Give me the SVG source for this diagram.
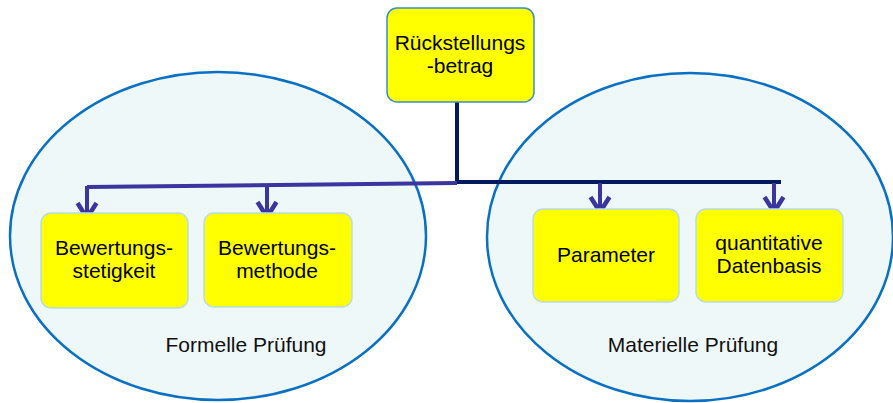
<svg xmlns="http://www.w3.org/2000/svg" width="893" height="403" viewBox="0 0 893 403">
  <defs>
    <marker id="chevron" markerUnits="userSpaceOnUse" markerWidth="40" markerHeight="40" refX="0" refY="0" orient="auto" overflow="visible">
      <path d="M-16,-9.5 L-1,0 L-16,9.5" fill="none" stroke="#3b35a0" stroke-width="4.5" stroke-linejoin="miter"/>
    </marker>
  </defs>
  <style>
    .group { fill: #eff8f8; stroke: #0a70c4; stroke-width: 2.5; }
    .box { fill: #ffff00; stroke: #b9dbe6; stroke-width: 1.5; }
    .root { fill: #ffff00; stroke: #3a8dcc; stroke-width: 1.5; }
    .lbl { font-family: "Liberation Sans", Arial, sans-serif; font-size: 21px; fill: #000; text-anchor: middle; }
    .cap { font-family: "Liberation Sans", Arial, sans-serif; font-size: 21px; fill: #111; text-anchor: middle; }
    .trunk { fill: none; stroke: #001a5e; stroke-width: 4; }
    .branch { fill: none; stroke: #3b35a0; stroke-width: 4; marker-end: url(#chevron); }
  </style>

  <rect width="893" height="403" fill="#ffffff"/>

  <!-- grouping ellipses -->
  <g id="formal-group">
    <ellipse class="group" cx="218" cy="236" rx="208" ry="164"/>
    <text class="cap" x="246" y="352">Formelle Prüfung</text>
  </g>
  <g id="material-group">
    <ellipse class="group" cx="690" cy="237" rx="203" ry="164"/>
    <text class="cap" x="693" y="352">Materielle Prüfung</text>
  </g>

  <!-- connectors -->
  <g id="connectors">
    <path class="trunk" d="M457,102 V182"/>
    <path class="trunk" d="M457,182 H781"/>
    <path d="M457,183 L87,187" fill="none" stroke="#3b35a0" stroke-width="4"/>
    <path class="branch" d="M87,186 V219"/>
    <path class="branch" d="M267,185 V218"/>
    <path class="branch" d="M600,183 V213"/>
    <path class="branch" d="M774,183 V213"/>
  </g>

  <!-- nodes -->
  <g id="node-rueckstellungsbetrag">
    <rect class="root" x="387" y="8" width="147" height="94" rx="10"/>
    <text class="lbl" x="460" y="50">Rückstellungs</text>
    <text class="lbl" x="460" y="73">-betrag</text>
  </g>
  <g id="node-bewertungsstetigkeit">
    <rect class="box" x="41" y="213" width="147" height="95" rx="10"/>
    <text class="lbl" x="114" y="255">Bewertungs-</text>
    <text class="lbl" x="114" y="278">stetigkeit</text>
  </g>
  <g id="node-bewertungsmethode">
    <rect class="box" x="204" y="213" width="148" height="94" rx="10"/>
    <text class="lbl" x="277" y="255">Bewertungs-</text>
    <text class="lbl" x="277" y="278">methode</text>
  </g>
  <g id="node-parameter">
    <rect class="box" x="533" y="209" width="146" height="93" rx="10"/>
    <text class="lbl" x="606" y="262">Parameter</text>
  </g>
  <g id="node-datenbasis">
    <rect class="box" x="696" y="209" width="147" height="93" rx="10"/>
    <text class="lbl" x="769" y="250">quantitative</text>
    <text class="lbl" x="769" y="273">Datenbasis</text>
  </g>
</svg>
